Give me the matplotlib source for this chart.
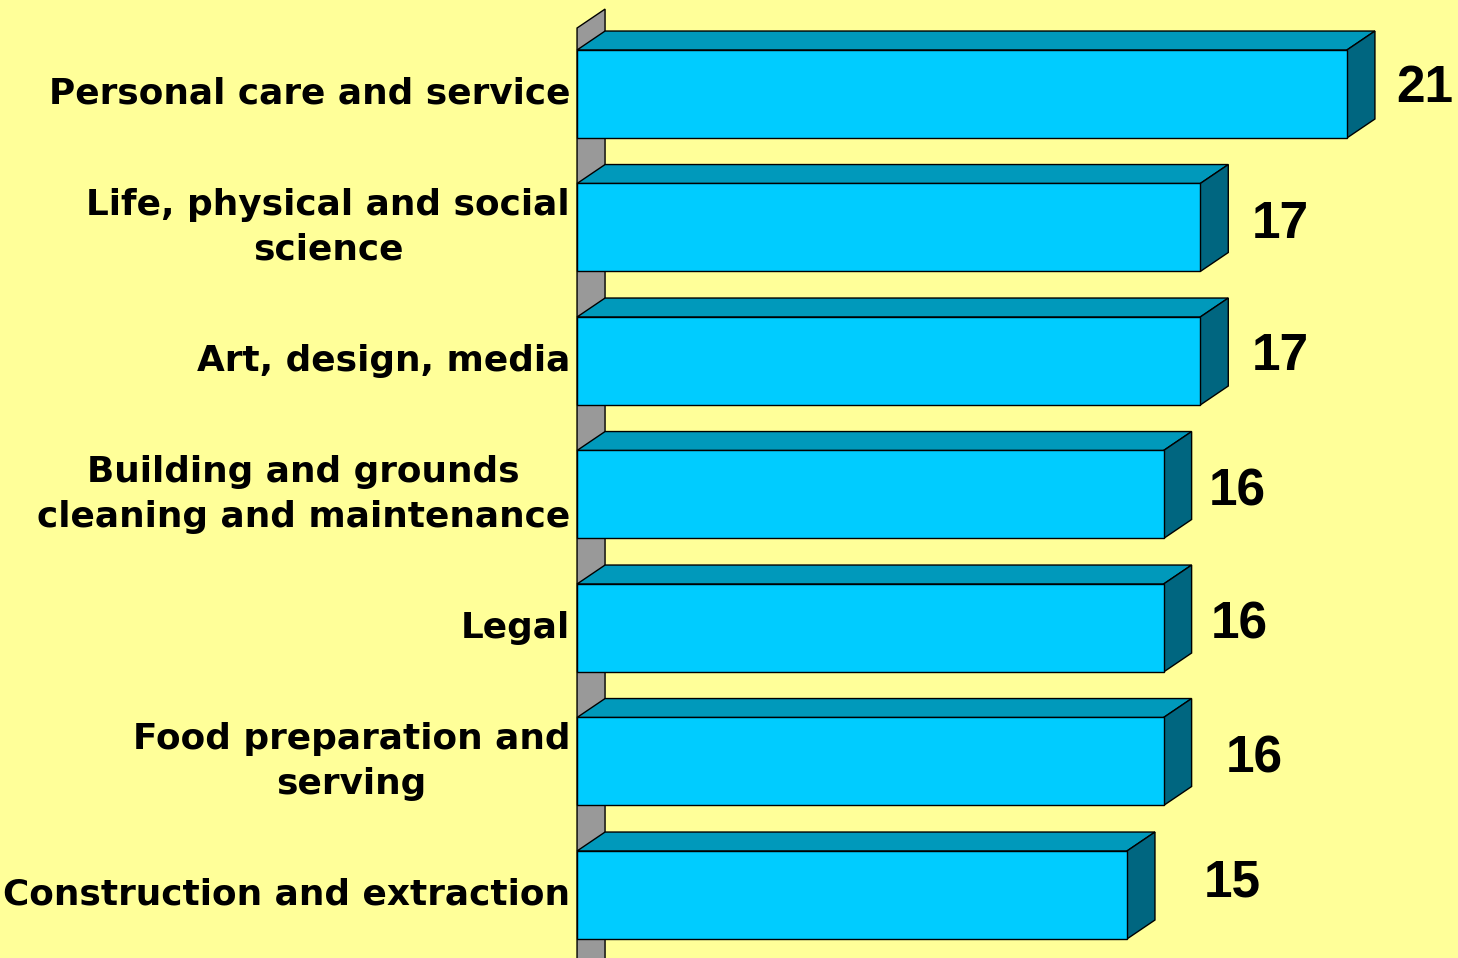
import matplotlib.pyplot as plt
from matplotlib.patches import Polygon

# Data
categories = ['Personal care and service',
              'Life, physical and social\nscience',
              'Art, design, media',
              'Building and grounds\ncleaning and maintenance',
              'Legal',
              'Food preparation and\nserving',
              'Construction and extraction']
values = [21, 17, 17, 16, 16, 16, 15]

# value label nudges (x in value units, y in category units)
label_dx = [0.57, 0.63, 0.63, 0.46, 0.52, 0.93, 1.34]
label_dy = [-0.04, -0.02, -0.03, -0.02, -0.02, -0.02, -0.09]

# Colors
bg = '#FFFF99'
front = '#00CCFF'
top_c = '#0099BB'
side_c = '#006680'
wall_c = '#999999'

fig = plt.figure(figsize=(14.58, 9.58), dpi=100, facecolor=bg)
ax = fig.add_axes([0, 0, 1, 1])
ax.set_facecolor(bg)

# axis scale (x in value units, y in category index)
ax.set_xlim(-15.74, 24.03)
ax.set_ylim(6.472, -0.704)
ax.axis('off')

h = 0.659   # bar thickness
dx = 0.764  # depth offset in x
dy = 0.142  # depth offset in y (upwards)

# back wall
wall = Polygon([(0, -0.494), (dx, -0.494 - dy), (dx, 6.6), (0, 6.6 + dy)],
               closed=True, facecolor=wall_c, edgecolor='black', lw=1, zorder=1)
ax.add_patch(wall)

for i, v in enumerate(values):
    y0 = i - h / 2
    y1 = i + h / 2
    top = Polygon([(0, y0), (v, y0), (v + dx, y0 - dy), (dx, y0 - dy)],
                  closed=True, facecolor=top_c, edgecolor='black', lw=1, zorder=2)
    side = Polygon([(v, y0), (v + dx, y0 - dy), (v + dx, y1 - dy), (v, y1)],
                   closed=True, facecolor=side_c, edgecolor='black', lw=1, zorder=2)
    ax.add_patch(top)
    ax.add_patch(side)
    ax.barh(i, v, height=h, color=front, edgecolor='black', lw=1, zorder=3)

    ax.text(v + dx + label_dx[i], i + label_dy[i], str(v), ha='left', va='center',
            fontsize=37, fontweight='bold', family='Liberation Sans', zorder=4)
    ax.text(-0.19, i, categories[i], ha='right', va='center', multialignment='center',
            fontsize=25.8, fontweight='bold', family='DejaVu Sans', zorder=4,
            linespacing=1.4)

plt.savefig('out.png', dpi=100, facecolor=bg)
